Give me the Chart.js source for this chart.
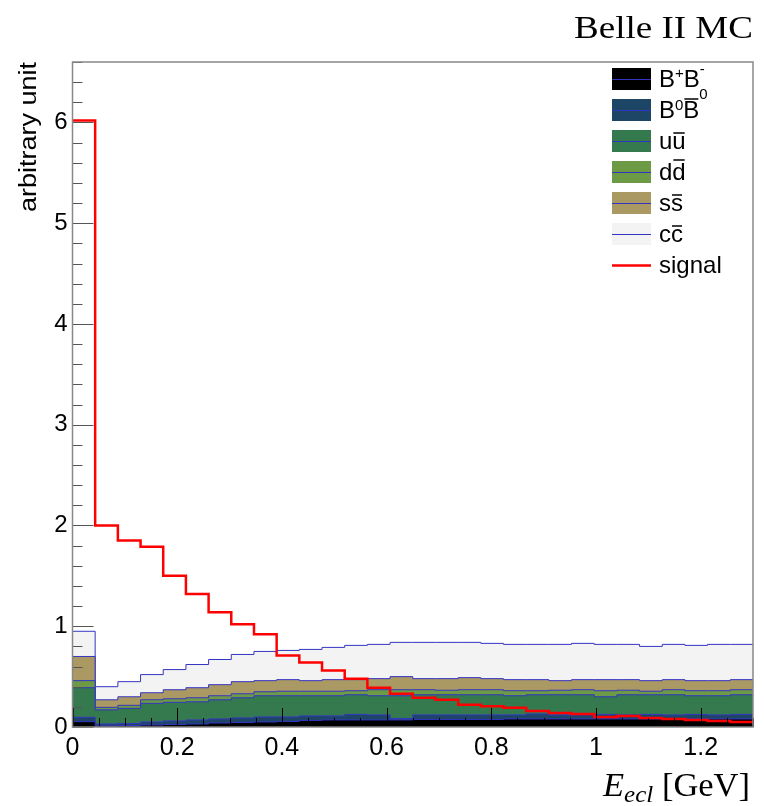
<!DOCTYPE html>
<html>
<head>
<meta charset="utf-8">
<script src="https://cdn.jsdelivr.net/npm/chart.js@4.4.1/dist/chart.umd.min.js"></script>
<style>
  body { margin: 0; background: #fff; }
  canvas { display: block; }
</style>
</head>
<body>
<canvas id="chart" width="764" height="806"></canvas>
<script>
// bin edges of the E_ecl histogram (30 bins, 0 - 1.3 GeV)
const binEdges = [0.0000, 0.0433, 0.0867, 0.1300, 0.1733, 0.2167, 0.2600, 0.3033, 0.3467, 0.3900,
    0.4333, 0.4767, 0.5200, 0.5633, 0.6067, 0.6500, 0.6933, 0.7367, 0.7800, 0.8233,
    0.8667, 0.9100, 0.9533, 0.9967, 1.0400, 1.0833, 1.1267, 1.1700, 1.2133, 1.2567, 1.3000];

// signal histogram
const signal = [6.02, 2.00, 1.85, 1.79, 1.50, 1.32, 1.14, 1.02, 0.92, 0.71,
    0.64, 0.56, 0.48, 0.39, 0.33, 0.29, 0.27, 0.22, 0.205, 0.19,
    0.16, 0.14, 0.13, 0.10, 0.11, 0.09, 0.08, 0.07, 0.06, 0.05];

// stacked background, top of each layer (cumulative)
const bpbmTop = [0.053, 0.010, 0.015, 0.020, 0.025, 0.030, 0.040, 0.045, 0.050, 0.055,
    0.065, 0.070, 0.070, 0.070, 0.070, 0.075, 0.075, 0.075, 0.075, 0.080,
    0.080, 0.080, 0.080, 0.080, 0.080, 0.080, 0.080, 0.080, 0.080, 0.080];
const b0b0Top = [0.096, 0.030, 0.035, 0.050, 0.060, 0.070, 0.080, 0.090, 0.100, 0.100,
    0.110, 0.110, 0.125, 0.120, 0.085, 0.120, 0.120, 0.120, 0.120, 0.120,
    0.130, 0.120, 0.120, 0.125, 0.120, 0.125, 0.120, 0.125, 0.120, 0.125];
const uuTop = [0.39, 0.17, 0.185, 0.235, 0.245, 0.25, 0.27, 0.29, 0.31, 0.31,
    0.31, 0.31, 0.32, 0.31, 0.31, 0.32, 0.32, 0.32, 0.32, 0.31,
    0.32, 0.32, 0.32, 0.30, 0.32, 0.32, 0.32, 0.31, 0.31, 0.32];
const ddTop = [0.46, 0.195, 0.215, 0.27, 0.28, 0.29, 0.31, 0.33, 0.35, 0.355,
    0.355, 0.355, 0.36, 0.37, 0.37, 0.37, 0.365, 0.37, 0.37, 0.36,
    0.36, 0.365, 0.37, 0.36, 0.365, 0.355, 0.37, 0.36, 0.36, 0.37];
const ssTop = [0.70, 0.27, 0.30, 0.34, 0.37, 0.39, 0.42, 0.45, 0.46, 0.47,
    0.46, 0.47, 0.47, 0.48, 0.50, 0.48, 0.48, 0.49, 0.48, 0.47,
    0.47, 0.46, 0.47, 0.47, 0.47, 0.46, 0.47, 0.46, 0.46, 0.47];
const ccTop = [0.95, 0.40, 0.45, 0.52, 0.57, 0.62, 0.67, 0.72, 0.75, 0.76,
    0.77, 0.79, 0.81, 0.82, 0.84, 0.84, 0.84, 0.84, 0.83, 0.82,
    0.82, 0.82, 0.83, 0.82, 0.82, 0.80, 0.82, 0.81, 0.82, 0.82];

const xTicks = [0, 0.2, 0.4, 0.6, 0.8, 1, 1.2];
const yTicks = [0, 1, 2, 3, 4, 5, 6];

const lineBlue = '#3434c4';

// histogram -> points at left edges, plus the closing right edge
function toSteps(values) {
    const pts = values.map((v, i) => ({ x: binEdges[i], y: v }));
    pts.push({ x: binEdges[binEdges.length - 1], y: values[values.length - 1] });
    return pts;
}

function histSet(label, values, fillColor, lineColor, width) {
    return {
        label: label,
        data: toSteps(values),
        stepped: 'before',
        borderColor: lineColor,
        borderWidth: width,
        backgroundColor: fillColor,
        fill: fillColor ? 'origin' : false,
        pointRadius: 0,
        tension: 0
    };
}

// legend rows: swatch fill, line, text pieces (sup = raise, bar = overline height above baseline)
const legendRows = [
    { fill: '#000000', line: lineBlue, parts: [{ t: 'B' }, { t: '+', sup: 9 }, { t: 'B' }, { t: '-', sup: 13 }] },
    { fill: '#1d4566', line: lineBlue, parts: [{ t: 'B' }, { t: '0', sup: 8 }, { t: 'B', bar: 19 }, { t: '0', sup: 19 }] },
    { fill: '#357a4e', line: lineBlue, parts: [{ t: 'u' }, { t: 'u', bar: 16 }] },
    { fill: '#6c9a45', line: lineBlue, parts: [{ t: 'd' }, { t: 'd', bar: 20 }] },
    { fill: '#ab9963', line: lineBlue, parts: [{ t: 's' }, { t: 's', bar: 16 }] },
    { fill: '#f4f3f3', line: lineBlue, parts: [{ t: 'c' }, { t: 'c', bar: 16 }] },
    { fill: null, line: '#ff0000', lw: 2.5, parts: [{ t: 'signal' }] }
];

// text squeezed/stretched to the width it has in the picture
function fitText(ctx, text, x, y, width) {
    const w = ctx.measureText(text).width;
    ctx.save();
    ctx.translate(x, y);
    ctx.scale(width / w, 1);
    ctx.fillText(text, 0, 0);
    ctx.restore();
}

const rootStyle = {
    id: 'rootStyle',
    afterDatasetsDraw(chart) {
        const ctx = chart.ctx;
        const a = chart.chartArea;
        const xs = chart.scales.x;
        const ys = chart.scales.y;
        ctx.save();

        // ticks inside the frame
        ctx.lineWidth = 1;
        ctx.strokeStyle = '#000';
        for (let i = 0; i <= 26; i++) {
            const px = Math.round(xs.getPixelForValue(i * 0.05)) + 0.5;
            const len = (i % 4 === 0) ? 19 : 9;
            ctx.beginPath();
            ctx.moveTo(px, a.bottom);
            ctx.lineTo(px, a.bottom - len);
            ctx.stroke();
        }
        ctx.strokeStyle = '#555';
        for (let i = 0; i <= 33; i++) {
            const py = Math.round(ys.getPixelForValue(i * 0.2)) + 0.5;
            const len = (i % 5 === 0) ? 21 : 10;
            ctx.beginPath();
            ctx.moveTo(a.left, py);
            ctx.lineTo(a.left + len, py);
            ctx.stroke();
        }

        // frame
        ctx.strokeStyle = '#888';
        ctx.lineWidth = 1.5;
        ctx.strokeRect(a.left, a.top, a.right - a.left, a.bottom - a.top);
        ctx.restore();
    },
    afterDraw(chart) {
        const ctx = chart.ctx;
        const a = chart.chartArea;
        ctx.save();
        ctx.fillStyle = '#000';
        ctx.textAlign = 'left';
        ctx.textBaseline = 'alphabetic';

        // header
        ctx.font = '31px "Liberation Serif"';
        fitText(ctx, 'Belle II MC', 574, 38, 179);

        // y title, reads upwards and ends at the frame top
        ctx.save();
        ctx.translate(36, a.top + 150);
        ctx.rotate(-Math.PI / 2);
        ctx.font = '23px "Liberation Sans"';
        fitText(ctx, 'arbitrary unit', 0, 0, 150);
        ctx.restore();

        // x title: E_ecl [GeV]
        const fE = 'italic 33px "Liberation Serif"';
        const fSub = 'italic 24px "Liberation Serif"';
        const fU = '33px "Liberation Serif"';
        ctx.font = fE; const wE = ctx.measureText('E').width;
        ctx.font = fSub; const wS = ctx.measureText('ecl').width;
        ctx.font = fU; const wU = ctx.measureText(' [GeV]').width;
        const sx = 147 / (wE + wS + wU);
        ctx.save();
        ctx.translate(603, 796);
        ctx.scale(sx, 1);
        let x0 = 0;
        ctx.font = fE; ctx.fillText('E', x0, 0); x0 += wE;
        ctx.font = fSub; ctx.fillText('ecl', x0, 6); x0 += wS;
        ctx.font = fU; ctx.fillText(' [GeV]', x0, 0);
        ctx.restore();

        // legend
        const boxL = 612, boxW = 39, boxH = 22, textX = 659;
        legendRows.forEach((row, i) => {
            const cy = 79 + i * 31;
            if (row.fill) {
                ctx.fillStyle = row.fill;
                ctx.fillRect(boxL, cy - boxH / 2, boxW, boxH);
            }
            ctx.strokeStyle = row.line;
            ctx.lineWidth = row.lw || 1;
            ctx.beginPath();
            ctx.moveTo(boxL, cy + 0.5);
            ctx.lineTo(boxL + boxW, cy + 0.5);
            ctx.stroke();

            ctx.fillStyle = '#000';
            let tx = textX;
            const bl = cy + 8;
            row.parts.forEach(p => {
                if (p.sup) {
                    ctx.font = '15px "Liberation Sans"';
                    ctx.fillText(p.t, tx, bl - p.sup);
                    tx += ctx.measureText(p.t).width;
                } else {
                    ctx.font = '24px "Liberation Sans"';
                    const w = ctx.measureText(p.t).width;
                    ctx.fillText(p.t, tx, bl);
                    if (p.bar) {
                        ctx.strokeStyle = '#000';
                        ctx.lineWidth = 1.5;
                        ctx.beginPath();
                        ctx.moveTo(tx + 1, bl - p.bar);
                        ctx.lineTo(tx + w - 1, bl - p.bar);
                        ctx.stroke();
                    }
                    tx += w;
                }
            });
        });
        ctx.restore();
    }
};

document.addEventListener('DOMContentLoaded', function() {
    const ctx = document.getElementById('chart').getContext('2d');

    const datasets = [
        histSet('signal', signal, null, '#ff0000', 2.5),
        histSet('B+B-', bpbmTop, '#000000', lineBlue, 1),
        histSet('B0B0bar', b0b0Top, '#1d4566', lineBlue, 1),
        histSet('uubar', uuTop, '#357a4e', lineBlue, 1),
        histSet('ddbar', ddTop, '#6c9a45', lineBlue, 1),
        histSet('ssbar', ssTop, '#ab9963', lineBlue, 1),
        histSet('ccbar', ccTop, '#f4f3f3', lineBlue, 1)
    ];

    new Chart(ctx, {
        type: 'line',
        data: { datasets: datasets },
        options: {
            responsive: false,
            animation: false,
            devicePixelRatio: 1,
            layout: { padding: { left: 0, top: 62, right: 11, bottom: 0 } },
            plugins: {
                legend: { display: false },
                tooltip: { enabled: false }
            },
            scales: {
                x: {
                    type: 'linear',
                    min: 0,
                    max: 1.3,
                    afterBuildTicks: scale => { scale.ticks = xTicks.map(v => ({ value: v })); },
                    afterFit: scale => { scale.height = 79; },
                    grid: { display: false, drawTicks: false },
                    border: { display: false },
                    ticks: {
                        padding: 6,
                        maxRotation: 0,
                        autoSkip: false,
                        color: '#000',
                        font: { family: 'Liberation Sans', size: 25 },
                        callback: v => String(Math.round(v * 10) / 10)
                    }
                },
                y: {
                    type: 'linear',
                    min: 0,
                    max: 6.6,
                    afterBuildTicks: scale => { scale.ticks = yTicks.map(v => ({ value: v })); },
                    afterFit: scale => { scale.width = 72.5; },
                    grid: { display: false, drawTicks: false },
                    border: { display: false },
                    ticks: {
                        padding: 5,
                        autoSkip: false,
                        color: '#000',
                        font: { family: 'Liberation Sans', size: 24 },
                        callback: v => String(v)
                    }
                }
            }
        },
        plugins: [rootStyle]
    });
});
</script>
</body>
</html>
